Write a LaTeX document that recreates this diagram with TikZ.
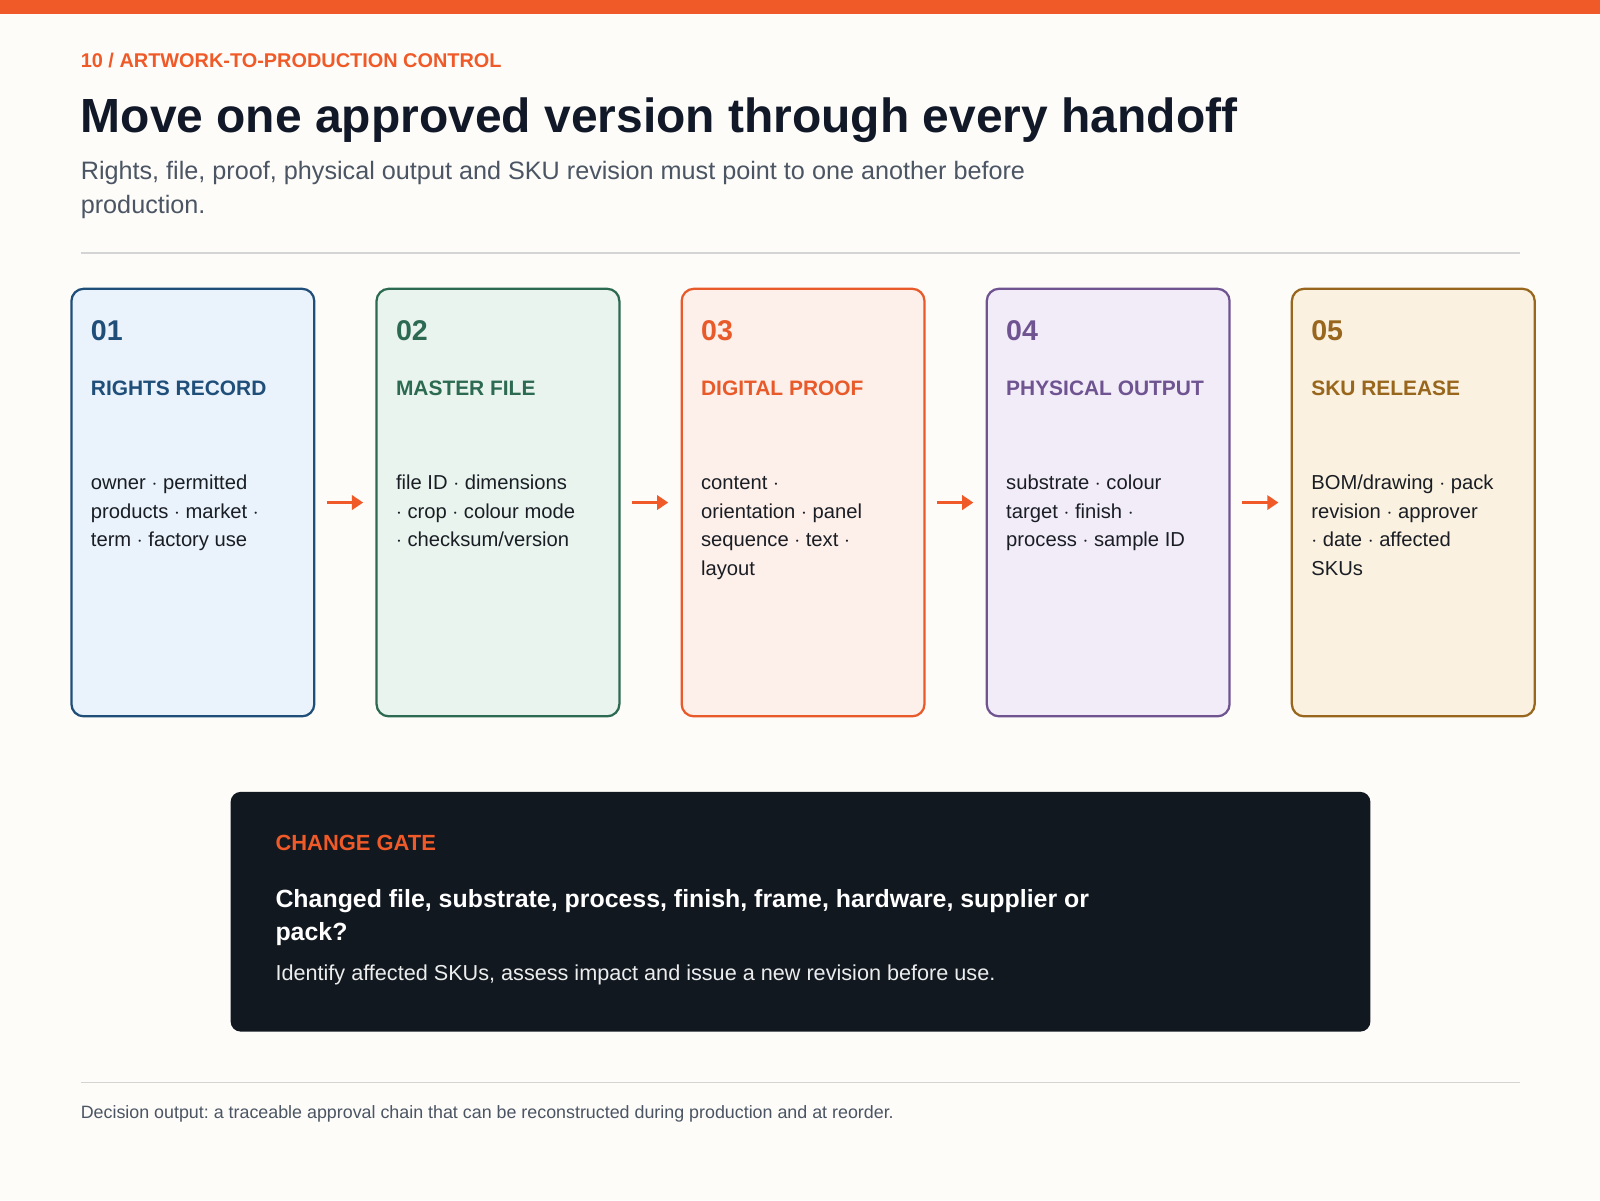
\documentclass[tikz,border=0pt]{standalone}
\usepackage{fontspec}
\setmainfont{Liberation Sans}
\usetikzlibrary{arrows.meta}
\frenchspacing
\definecolor{paper}{HTML}{FDFCF9}
\definecolor{accent}{HTML}{F05A28}
\definecolor{ink}{HTML}{111827}
\definecolor{slate}{HTML}{4B5563}
\definecolor{rule}{HTML}{D4D4D4}
\definecolor{night}{HTML}{121820}
\definecolor{bodyink}{HTML}{1A1E24}
\definecolor{blueline}{HTML}{1F4E79}\definecolor{bluefill}{HTML}{EAF2FB}
\definecolor{greenline}{HTML}{2D6A52}\definecolor{greenfill}{HTML}{EAF4EF}
\definecolor{orangeline}{HTML}{E85A2A}\definecolor{orangefill}{HTML}{FDEFEA}
\definecolor{purpleline}{HTML}{6F5491}\definecolor{purplefill}{HTML}{F2ECF9}
\definecolor{goldline}{HTML}{98661C}\definecolor{goldfill}{HTML}{FAF1E0}
\def\setsize#1#2{\fontsize{#1}{#2}\selectfont}
\tikzset{
	card/.style args={#1/#2}{draw=#1, fill=#2, line width=2.2pt, rounded corners=12pt,
		minimum width=238pt, minimum height=419pt, inner sep=0pt},
	cardnum/.style={text=#1, anchor=base west, inner sep=0pt, font=\setsize{28}{32}\bfseries},
	cardhead/.style={text=#1, anchor=base west, inner sep=0pt, font=\setsize{20.5}{24}\bfseries},
	cardbody/.style={text=bodyink, anchor=north west, inner sep=0pt, align=left, font=\setsize{19.8}{28}},
	flow/.style={accent, line width=3pt, shorten <=11pt, shorten >=12pt, -{Triangle[length=11pt,width=14pt]}},
	rulerline/.style={rule, line width=1.5pt}
}

\begin{document}
\begin{tikzpicture}[x=1pt, y=-1pt]
			%%%%% START %%%%%
			
			\useasboundingbox (0, 0) rectangle (1568, 1176);
			\fill[paper] (0, 0) rectangle (1568, 1176);
			\fill[accent] (0, 0) rectangle (1568, 14);
			
			\node[anchor=base west, inner sep=0pt, text=accent, font=\setsize{19.5}{24}\bfseries] (tag) at (79, 66) {10 / ARTWORK-TO-PRODUCTION CONTROL};
			\node[anchor=base west, inner sep=0pt, text=ink, font=\setsize{47}{54}\bfseries] (title) at (79, 130) {Move one approved version through every handoff};
			\node[anchor=north west, inner sep=0pt, text=slate, align=left, font=\setsize{24.7}{33}] (sub) at (79, 153) {\strut Rights, file, proof, physical output and SKU revision must point to one another before\\production.};
			
			\draw[rulerline] (79, 248) -- (1490, 248);
			
			\node[card=blueline/bluefill] (c1) at (189, 492.5) {};
			\node[cardnum=blueline] (n1) at ([xshift=20pt, yshift=-52pt]c1.north west) {01};
			\node[cardhead=blueline] (h1) at ([xshift=20pt, yshift=-106pt]c1.north west) {RIGHTS RECORD};
			\node[cardbody] (b1) at ([xshift=20pt, yshift=-178pt]c1.north west) {\strut owner $\cdot$ permitted\\products $\cdot$ market $\cdot$\\term $\cdot$ factory use};
			
			\node[card=greenline/greenfill] (c2) at (488, 492.5) {};
			\node[cardnum=greenline] (n2) at ([xshift=20pt, yshift=-52pt]c2.north west) {02};
			\node[cardhead=greenline] (h2) at ([xshift=20pt, yshift=-106pt]c2.north west) {MASTER FILE};
			\node[cardbody] (b2) at ([xshift=20pt, yshift=-178pt]c2.north west) {\strut file ID $\cdot$ dimensions\\$\cdot$ crop $\cdot$ colour mode\\$\cdot$ checksum/version};
			
			\node[card=orangeline/orangefill] (c3) at (787, 492.5) {};
			\node[cardnum=orangeline] (n3) at ([xshift=20pt, yshift=-52pt]c3.north west) {03};
			\node[cardhead=orangeline] (h3) at ([xshift=20pt, yshift=-106pt]c3.north west) {DIGITAL PROOF};
			\node[cardbody] (b3) at ([xshift=20pt, yshift=-178pt]c3.north west) {\strut content $\cdot$\\orientation $\cdot$ panel\\sequence $\cdot$ text $\cdot$\\layout};
			
			\node[card=purpleline/purplefill] (c4) at (1086, 492.5) {};
			\node[cardnum=purpleline] (n4) at ([xshift=20pt, yshift=-52pt]c4.north west) {04};
			\node[cardhead=purpleline] (h4) at ([xshift=20pt, yshift=-106pt]c4.north west) {PHYSICAL OUTPUT};
			\node[cardbody] (b4) at ([xshift=20pt, yshift=-178pt]c4.north west) {\strut substrate $\cdot$ colour\\target $\cdot$ finish $\cdot$\\process $\cdot$ sample ID};
			
			\node[card=goldline/goldfill] (c5) at (1385, 492.5) {};
			\node[cardnum=goldline] (n5) at ([xshift=20pt, yshift=-52pt]c5.north west) {05};
			\node[cardhead=goldline] (h5) at ([xshift=20pt, yshift=-106pt]c5.north west) {SKU RELEASE};
			\node[cardbody] (b5) at ([xshift=20pt, yshift=-178pt]c5.north west) {\strut BOM/drawing $\cdot$ pack\\revision $\cdot$ approver\\$\cdot$ date $\cdot$ affected\\SKUs};
			
			\draw[flow] (c1.east) -- (c2.west);
			\draw[flow] (c2.east) -- (c3.west);
			\draw[flow] (c3.east) -- (c4.west);
			\draw[flow] (c4.east) -- (c5.west);
			
			\node[fill=night, rounded corners=10pt, minimum width=1117pt, minimum height=235pt, inner sep=0pt] (gate) at (784.5, 893.5) {};
			\node[anchor=base west, inner sep=0pt, text=accent, font=\setsize{21.5}{24}\bfseries] (gatehead) at ([xshift=44pt, yshift=-58pt]gate.north west) {CHANGE GATE};
			\node[anchor=north west, inner sep=0pt, text=white, align=left, font=\setsize{24.4}{33}\bfseries] (gateq) at ([xshift=44pt, yshift=-90pt]gate.north west) {\strut Changed file, substrate, process, finish, frame, hardware, supplier or\\pack?};
			\node[anchor=base west, inner sep=0pt, text=white!92!night, font=\setsize{21.2}{24}] (gatetxt) at ([xshift=44pt, yshift=-185pt]gate.north west) {Identify affected SKUs, assess impact and issue a new revision before use.};
			
			\draw[rulerline] (79, 1061) -- (1490, 1061);
			\node[anchor=base west, inner sep=0pt, text=slate, font=\setsize{17.5}{20}] (foot) at (79, 1096) {Decision output: a traceable approval chain that can be reconstructed during production and at reorder.};
			
			%%%%% END %%%%%
\end{tikzpicture}
\end{document}
